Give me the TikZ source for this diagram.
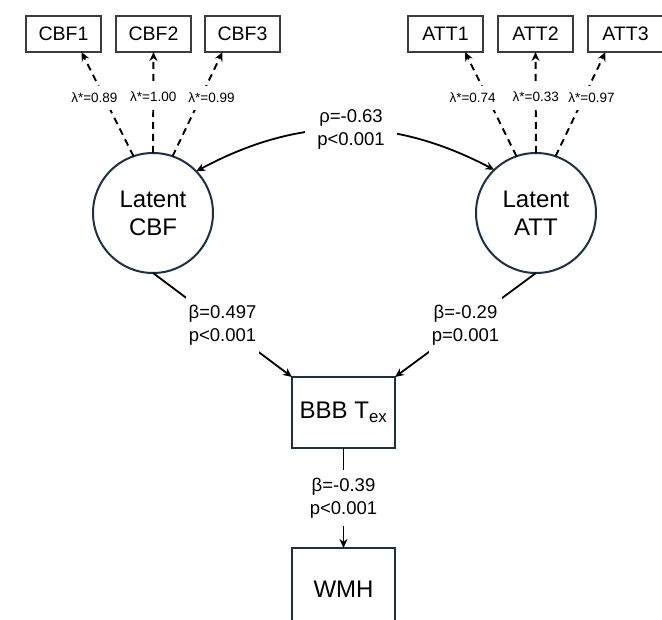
\documentclass[tikz,border=0pt]{standalone}
\usepackage{fontspec}
\setmainfont{Liberation Sans}
\usetikzlibrary{positioning,arrows.meta}
\definecolor{latentblue}{HTML}{1B3148}
\definecolor{boxgray}{HTML}{3C3C3C}

\begin{document}
\begin{tikzpicture}[x=1pt, y=1pt,
    indicator/.style={draw=boxgray, line width=1.2pt, minimum width=75pt, minimum height=36pt,
      inner sep=0pt, outer sep=0pt, font=\fontsize{19.5}{23}\selectfont},
    latent/.style={circle, draw=latentblue, line width=2pt, minimum size=120pt, inner sep=0pt,
      outer sep=0pt, align=center, font=\fontsize{24}{28}\selectfont},
    observed/.style={draw=latentblue, line width=2pt, minimum width=103pt, minimum height=71pt,
      inner sep=0pt, outer sep=0pt, font=\fontsize{24}{28}\selectfont},
    loading/.style={dash pattern=on 7pt off 5pt, line width=1.9pt},
    lam/.style={fill=white, inner xsep=1pt, inner ysep=7pt, font=\fontsize{13.5}{16}\selectfont},
    est/.style={fill=white, align=center, inner xsep=3pt, inner ysep=8pt,
      font=\fontsize{18.5}{22.5}\selectfont},
    >={Stealth[length=9pt,width=8pt]}
  ]
    \useasboundingbox (0,0) rectangle (662,-620);

    % indicators
    \node [indicator] (cbf1) at (63.5,-34) {CBF1};
    \node [indicator] [right=15pt of cbf1] (cbf2) {CBF2};
    \node [indicator] [right=14pt of cbf2] (cbf3) {CBF3};
    \node [indicator] (att1) at (445.5,-34) {ATT1};
    \node [indicator] [right=15pt of att1] (att2) {ATT2};
    \node [indicator] [right=15pt of att2] (att3) {ATT3};

    % latent factors and outcomes
    \node [latent] (lcbf) at (153,-213) {Latent\\CBF};
    \node [latent] (latt) at (536,-213) {Latent\\ATT};
    \node [observed] (bbb) at (343.5,-412.5) {BBB T\textsubscript{ex}};
    \node [observed, minimum height=82pt] [below=100pt of bbb] (wmh) {WMH};

      \path[->, loading]
      (lcbf.109) edge node [lam, pos=0.56, xshift=-10pt] (l1) {λ*=0.89} ([xshift=18pt]cbf1.south)
      (lcbf.90) edge node [lam, pos=0.56] (l2) {λ*=1.00} (cbf2.south)
      (lcbf.71) edge node [lam, pos=0.56, xshift=11pt] (l3) {λ*=0.99} ([xshift=-20pt]cbf3.south)
      (latt.109) edge node [lam, pos=0.56, xshift=-15pt] (l4) {λ*=0.74} ([xshift=19.5pt]att1.south)
      (latt.90) edge node [lam, pos=0.56] (l5) {λ*=0.33} (att2.south)
      (latt.71) edge node [lam, pos=0.56, xshift=8pt] (l6) {λ*=0.97} ([xshift=-20pt]att3.south)
      ;

      \path[->, line width=1.8pt]
      (lcbf.44) edge [<->, bend left=28] node [est, inner xsep=12pt, xshift=6pt] (rho) {ρ=-0.63\\p<0.001} (latt.134)
      (lcbf.south) edge node [est] (b1) {β=0.497\\p<0.001} (bbb.north west)
      (latt.south) edge node [est] (b2) {β=-0.29\\p=0.001} (bbb.north east)
      (bbb.south) edge node [est] (b3) {β=-0.39\\p<0.001} (wmh.north)
      ;
  \end{tikzpicture}
\end{document}
